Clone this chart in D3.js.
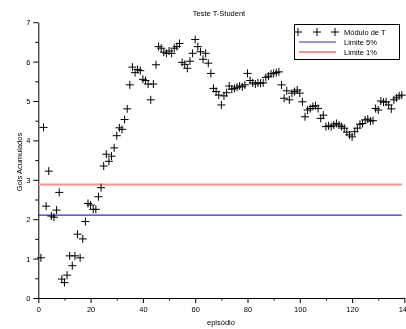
<!DOCTYPE html>
<html>
<head>
<meta charset="utf-8">
<script src="https://cdn.jsdelivr.net/npm/d3@7"></script>
<style>
  body { margin: 0; background: #fff; }
  svg { will-change: transform; }
  text { font-family: "Liberation Sans", Arial, sans-serif; fill: #000; }
</style>
</head>
<body>
<div id="chart"></div>
<script>
// |T| per episode (episodes 1..139)
const moduloT = [
  1.02, 4.33, 2.33, 3.22, 2.08, 2.05, 2.23, 2.68, 0.48, 0.39,
  0.58, 1.07, 0.82, 1.07, 1.62, 1.02, 1.50, 1.94, 2.40, 2.36,
  2.25, 2.25, 2.57, 2.80, 3.35, 3.65, 3.47, 3.60, 3.81, 4.12,
  4.32, 4.28, 4.53, 4.80, 5.41, 5.86, 5.72, 5.80, 5.77, 5.55,
  5.52, 5.43, 5.03, 5.43, 5.92, 6.38, 6.34, 6.24, 6.21, 6.27,
  6.21, 6.34, 6.38, 6.46, 5.98, 5.93, 5.83, 6.01, 6.21, 6.56,
  6.38, 6.25, 6.06, 6.21, 5.96, 5.70, 5.32, 5.24, 5.15, 4.90,
  5.13, 5.21, 5.38, 5.30, 5.32, 5.35, 5.38, 5.36, 5.41, 5.70,
  5.52, 5.46, 5.43, 5.46, 5.45, 5.46, 5.60, 5.63, 5.69, 5.70,
  5.72, 5.74, 5.41, 5.07, 5.26, 5.03, 5.20, 5.24, 5.28, 5.20,
  4.98, 4.60, 4.77, 4.81, 4.86, 4.88, 4.81, 4.56, 4.64, 4.35,
  4.37, 4.35, 4.39, 4.43, 4.39, 4.35, 4.31, 4.21, 4.14, 4.09,
  4.22, 4.31, 4.41, 4.43, 4.52, 4.54, 4.49, 4.50, 4.81, 4.77,
  5.00, 4.97, 4.98, 4.90, 4.80, 5.03, 5.08, 5.13, 5.15
];
const limitX = [0, 139];
const limite5 = 2.101;
const limite1 = 2.878;
const xTicks = [0, 20, 40, 60, 80, 100, 120, 140];
const yTicks = [0, 1, 2, 3, 4, 5, 6, 7];
const legendLabels = ['Módulo de T', 'Limite 5%', 'Limite 1%'];

const width = 406, height = 329;
const svg = d3.select('#chart').append('svg')
  .attr('width', width)
  .attr('height', height);

const x = d3.scaleLinear().domain([0, 140]).range([38.3, 404.4]);
const y = d3.scaleLinear().domain([0, 7]).range([298, 22.2]);

// minor ticks first, then major axis
svg.append('g')
  .attr('transform', `translate(0,${y(0)})`)
  .call(d3.axisBottom(x).tickValues(d3.range(10, 140, 20)).tickSize(2.5).tickFormat(''))
  .call(g => g.select('.domain').remove());
svg.append('g')
  .attr('transform', `translate(${x(0)},0)`)
  .call(d3.axisLeft(y).tickValues(d3.range(0.5, 7, 1)).tickSize(3).tickFormat(''))
  .call(g => g.select('.domain').remove());

svg.append('g')
  .attr('transform', `translate(0,${y(0)})`)
  .call(d3.axisBottom(x).tickValues(xTicks).tickFormat(d3.format('d'))
    .tickSize(5).tickPadding(4).tickSizeOuter(0));
svg.append('g')
  .attr('transform', `translate(${x(0)},0)`)
  .call(d3.axisLeft(y).tickValues(yTicks).tickFormat(d3.format('d'))
    .tickSize(5).tickPadding(3).tickSizeOuter(0));

svg.selectAll('.tick text').style('font-size', '7.5px');
svg.selectAll('.domain, .tick line').attr('stroke', '#000');

// limit lines
const line = d3.line().x(d => x(d[0])).y(d => y(d[1]));
svg.append('path')
  .attr('d', line(limitX.map(v => [v, limite5])))
  .attr('stroke', '#2b2bd0').attr('stroke-width', 1.2).attr('fill', 'none');
svg.append('path')
  .attr('d', line(limitX.map(v => [v, limite1])))
  .attr('stroke', '#ff8c8c').attr('stroke-width', 2).attr('fill', 'none');

// + markers
const plus = 'M-4,0H4M0,-4V4';
svg.append('g')
  .selectAll('path')
  .data(moduloT)
  .enter()
  .append('path')
  .attr('transform', (d, i) => `translate(${x(i + 1)},${y(d)})`)
  .attr('d', plus)
  .attr('stroke', '#000')
  .attr('stroke-width', 1)
  .attr('fill', 'none');

// titles
svg.append('text').attr('x', 219).attr('y', 16)
  .attr('text-anchor', 'middle').style('font-size', '7.5px').text('Teste T-Student');
svg.append('text').attr('x', 221).attr('y', 325)
  .attr('text-anchor', 'middle').style('font-size', '7.5px').text('episódio');
svg.append('text')
  .attr('transform', 'translate(21.5,162) rotate(-90)')
  .attr('text-anchor', 'middle').style('font-size', '7.5px').text('Gols Acumulados');

// legend
const lg = svg.append('g');
lg.append('rect').attr('x', 294.5).attr('y', 24.5).attr('width', 105).attr('height', 35)
  .attr('fill', '#fff').attr('stroke', '#000');
[298, 317, 335].forEach(px => {
  lg.append('path').attr('transform', `translate(${px},32)`).attr('d', plus)
    .attr('stroke', '#000').attr('fill', 'none');
});
lg.append('line').attr('x1', 299).attr('x2', 336).attr('y1', 42).attr('y2', 42)
  .attr('stroke', '#2b2bd0').attr('stroke-width', 1.2);
lg.append('line').attr('x1', 299).attr('x2', 336).attr('y1', 52).attr('y2', 52)
  .attr('stroke', '#ff8c8c').attr('stroke-width', 2);
legendLabels.forEach((t, i) => {
  lg.append('text').attr('x', 344).attr('y', 34.5 + i * 10)
    .style('font-size', '7.5px').text(t);
});
</script>
</body>
</html>
